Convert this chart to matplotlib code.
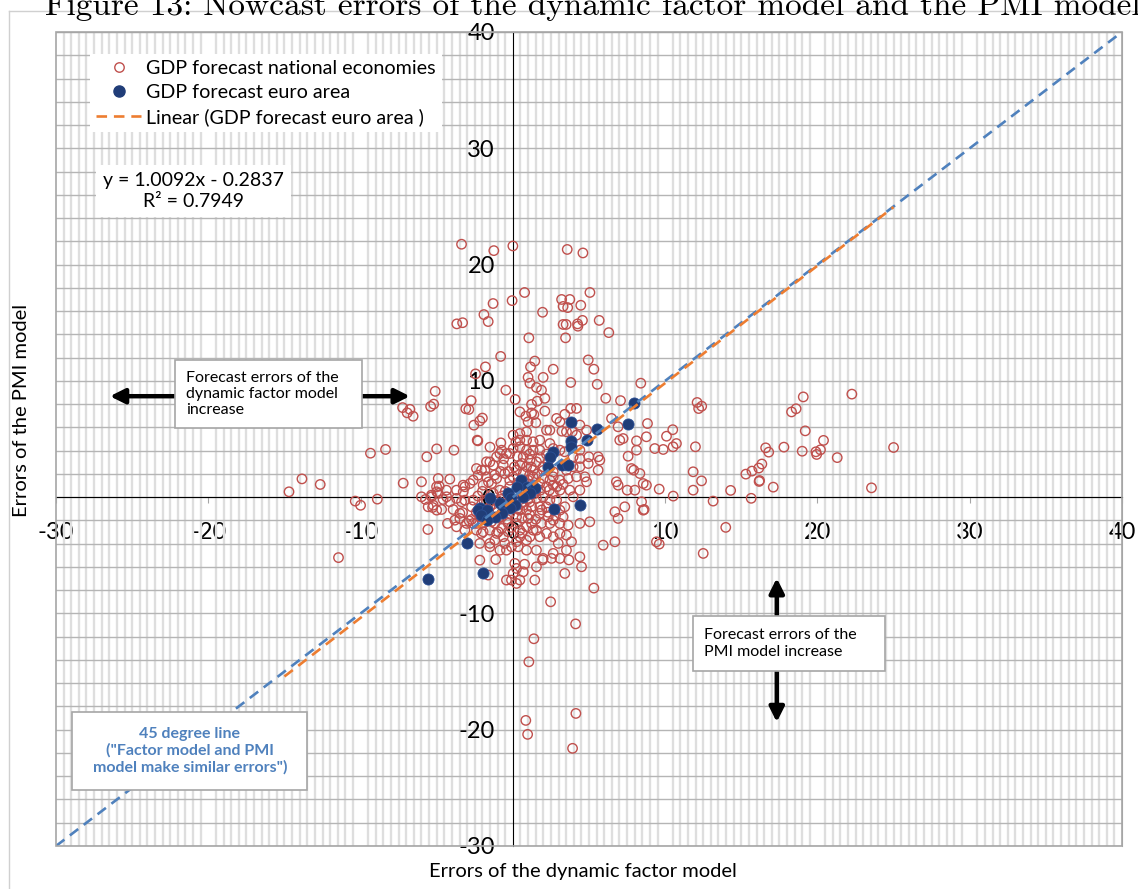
import matplotlib
matplotlib.use('Agg')
import matplotlib.pyplot as plt
from matplotlib.ticker import MultipleLocator
from matplotlib.patches import Rectangle
from matplotlib.lines import Line2D
import numpy as np

nat_upper = [(-3.37, 21.75), (-1.25, 21.2), (0.0, 21.6), (3.57, 21.3), (4.6, 21.0),
             (-1.3, 16.65), (-0.05, 16.9), (0.77, 17.6), (3.2, 17.0), (3.74, 17.0), (5.06, 17.6),
             (3.3, 16.4), (3.6, 16.3), (4.46, 16.5), (1.95, 15.9),
             (-3.68, 14.9), (-3.3, 15.0), (-1.9, 15.7), (-1.62, 15.1), (3.3, 14.85), (3.5, 14.85),
             (4.25, 14.9), (4.27, 14.7), (4.57, 15.2), (5.67, 15.2), (6.3, 14.15), (3.46, 13.7), (1.05, 13.7),
             (-0.8, 12.1), (-1.8, 11.2), (-2.45, 10.6), (4.95, 11.8), (5.32, 11.0), (1.44, 11.7),
             (1.16, 11.2), (2.65, 11.0), (1.0, 10.3), (1.12, 9.8), (1.99, 10.3), (3.8, 9.86), (5.54, 9.7),
             (1.55, 9.43), (1.88, 9.2), (8.4, 9.8), (-0.46, 9.2),
             (-5.1, 9.1), (-5.2, 8.0), (-5.4, 7.8), (-7.24, 7.7), (-6.76, 7.55), (-6.94, 7.25), (-6.55, 6.96),
             (-2.74, 8.3), (-3.09, 7.6), (-2.89, 7.54), (-2.0, 6.8), (-2.17, 6.56), (-2.56, 6.19),
             (0.15, 8.4), (0.46, 7.33), (2.1, 8.5), (1.6, 8.25), (1.23, 7.97), (6.1, 8.5), (7.07, 8.3),
             (0.85, 6.96), (1.23, 7.24), (1.38, 7.1), (2.1, 7.4), (1.51, 6.4), (1.0, 6.48), (2.87, 6.77),
             (3.09, 6.48), (3.41, 7.12), (3.8, 7.63), (4.18, 7.63), (4.4, 6.2), (6.48, 6.77), (8.84, 6.33),
             (12.1, 8.14), (12.2, 7.62), (12.4, 7.82)]

nat_right = [(19.07, 8.62), (22.26, 8.86), (18.3, 7.33), (18.6, 7.6), (19.2, 5.7), (16.6, 4.24),
             (16.8, 3.87), (17.8, 4.3), (19.0, 3.95), (19.9, 3.9), (19.95, 3.67), (20.2, 4.07), (20.4, 4.88),
             (21.3, 3.4), (25.0, 4.27), (15.3, 1.98), (15.7, 2.24), (16.15, 2.5), (16.35, 2.85), (16.2, 1.43),
             (17.1, 0.86), (23.55, 0.8), (15.65, -0.1),
             (9.61, 0.69), (10.53, 0.09), (11.84, 0.6), (12.39, 1.4), (14.3, 0.58), (13.15, -0.34),
             (16.17, 1.35), (8.62, -1.06), (8.45, -0.4), (13.98, -2.6), (9.61, -4.04), (12.5, -4.84),
             (10.5, 5.8), (10.09, 5.24), (10.74, 4.61), (9.32, 4.18), (9.87, 4.1), (10.52, 4.33),
             (11.99, 4.33), (11.84, 2.18), (8.12, 4.84), (8.77, 5.19), (8.12, 4.04), (8.34, 2.03),
             (8.56, 1.17), (8.77, 1.03), (9.43, -3.84), (8.56, -1.12)]

nat_left = [(-14.7, 0.46), (-13.85, 1.57), (-12.65, 1.09), (-9.35, 3.78), (-8.36, 4.1), (-10.35, -0.34),
            (-10.0, -0.7), (-8.9, -0.17), (-7.2, 1.2), (-5.65, 3.47), (-5.0, 4.15), (-3.87, 4.04),
            (-11.45, -5.2), (-5.58, -2.78), (-4.14, 1.55), (-5.74, -0.2), (-5.35, 0.17), (-5.0, 0.46),
            (-4.84, 0.95), (-4.58, -0.2), (-4.36, 0.6), (-4.14, -0.4), (-3.92, -1.06), (-5.27, -0.89),
            (-5.0, -1.12), (-4.68, -1.06), (-3.37, -0.4), (-3.3, -1.32), (-3.15, 0.89), (-4.29, -2.26),
            (-3.81, -1.98), (-3.7, -2.55), (-2.87, -2.04), (-6.0, 1.32), (-5.01, 0.89), (-6.0, 0.03),
            (-5.56, -0.83), (-5.23, -0.69), (-4.9, 1.6), (-4.9, 0.32), (-5.34, 0.03), (-4.35, 0.03),
            (-3.7, -0.11), (-3.7, 0.6), (-3.26, 1.03), (-3.26, 0.46), (-3.15, -0.26), (-3.48, -1.4),
            (-3.48, -1.83), (-3.04, -2.26), (-3.15, -2.84), (-2.71, -1.92)]

nat_core = [(-2.3, 4.84), (-2.6, 1.46), (-2.28, 1.89), (-1.84, 2.32), (-1.51, 3.03), (-0.85, 3.75),
            (-0.79, 4.67), (-0.2, 3.75), (-2.34, 4.9), (0.2, 4.76), (0.46, 4.9), (0.9, 4.9), (1.33, 4.76),
            (2.21, 5.76), (2.43, 5.76), (3.22, 5.67), (3.52, 5.62), (3.9, 5.62), (4.18, 5.33), (4.84, 5.76),
            (6.91, 6.05), (7.02, 4.9), (7.24, 5.04), (7.57, 3.52), (4.99, 3.47), (5.6, 3.47), (5.71, 3.18),
            (4.95, 2.89), (4.4, 4.04), (4.4, 3.32), (4.4, 2.61), (5.6, 2.32), (4.73, 1.75), (4.84, 1.32),
            (3.63, 1.6), (4.18, 1.75), (6.8, 1.32), (6.91, 1.03), (7.79, 2.46), (7.94, 2.32), (8.01, 0.6),
            (7.51, 0.6), (7.35, -0.83), (6.7, -1.26), (6.91, -1.83), (6.7, -3.84), (5.93, -4.13),
            (5.05, -2.12), (4.4, -2.26), (3.52, -3.27), (2.98, -3.98), (3.85, -3.84), (3.09, -5.27),
            (2.54, -5.27), (1.99, -5.27), (1.55, -4.56), (0.9, -4.56), (0.35, -4.27), (0.9, -3.7),
            (1.77, -3.41), (2.21, -3.12), (2.43, -2.26), (1.88, -2.26), (1.55, -2.84), (1.23, -2.26),
            (1.0, -1.83), (1.77, -1.4), (2.21, -0.83), (3.09, -1.12), (3.41, -0.83), (3.96, 0.03),
            (4.4, 0.6), (3.74, 0.6), (3.09, 0.6), (2.65, 1.03), (2.43, 1.46), (2.21, 0.89), (1.77, 1.17),
            (2.65, 2.18), (1.99, 2.61), (1.55, 3.04), (1.12, 3.18), (0.68, 3.47), (0.9, 4.04), (1.33, 4.04),
            (1.77, 4.04), (0.46, 4.33), (0.02, 4.18), (-0.42, 3.75), (-0.74, 4.04), (-1.07, 3.47),
            (-1.29, 2.75), (-1.73, 3.04), (-2.06, 2.32), (-2.39, 2.46), (-1.73, 1.75), (-1.07, 1.6),
            (-1.4, 1.17), (-1.95, 1.03), (-2.82, 1.17), (-2.39, -2.84), (-1.95, -2.98), (-1.51, -2.84),
            (-1.07, -3.12), (-0.63, -3.41), (-0.31, -2.98), (-0.53, -3.98), (-0.09, -4.27), (0.24, -3.84),
            (0.46, -3.41), (-1.18, -3.7), (-1.51, -4.27), (-2.17, -3.98), (-0.85, -4.56), (-0.42, -4.56),
            (-2.17, -5.42), (-1.12, -5.36), (0.13, -5.7), (0.24, -6.13), (0.68, -6.42), (0.02, -6.56),
            (-0.42, -7.13), (-0.09, -7.13), (0.46, -7.13), (0.24, -7.42), (1.44, -7.13), (4.51, -5.99),
            (3.41, -6.56), (4.4, -5.13), (3.52, -4.56), (2.65, -4.84), (1.55, -5.99),
            (1.33, 1.03), (1.0, 1.46), (1.33, 1.75), (0.68, 2.03), (0.46, 2.75), (0.24, 2.32), (0.02, 1.75),
            (-0.2, 1.46), (1.33, 2.32), (0.9, 2.61), (-0.63, 2.75), (-0.53, 2.03), (-0.85, 0.6),
            (-0.42, -0.54), (-1.29, 0.32), (-1.51, -0.83), (-0.74, -1.69), (0.24, -1.69), (0.9, -1.12),
            (0.57, -0.54), (1.12, -0.4), (1.55, -0.11), (1.99, 0.03), (2.43, -0.26), (2.65, 0.32),
            (2.87, -0.26), (1.77, -0.83), (1.23, -0.83), (0.46, -1.12), (0.24, -2.26), (0.9, -2.55),
            (1.33, -2.84), (2.32, -1.69), (2.65, -1.98), (3.09, -2.26), (3.63, -2.41), (2.65, -3.41),
            (3.09, -3.12), (1.12, -3.41), (0.46, -2.84), (-0.31, -2.26), (-0.74, -2.69), (-1.18, -2.26),
            (-1.51, -1.69), (-2.17, -1.69), (-2.39, -2.26), (-2.71, -0.83), (-2.6, -0.26), (-1.73, -0.4),
            (2.65, 1.75), (3.09, 1.46), (3.52, 2.32), (3.96, 2.61), (3.96, 3.47), (3.09, 4.04), (2.65, 4.18),
            (2.43, 4.61), (1.77, 4.9), (0.9, 5.62), (0.46, 5.47), (0.02, 5.33),
            (-2.06, -3.12), (-0.96, -2.98), (-1.51, -3.98), (-2.6, -2.26), (-1.62, -6.7), (0.77, -5.77),
            (1.95, -5.4), (3.68, -5.4)]

# the packed blob round the origin
nat_blob = [(-0.5, 0.5), (-0.2, 0.9), (0.3, 1.2), (0.7, 1.4), (1.1, 1.9), (1.6, 2.0), (2.0, 1.6),
            (1.8, 0.6), (1.4, 0.3), (0.9, 0.1), (0.5, -0.2), (0.1, -0.4), (-0.3, -0.1), (-0.7, 0.1),
            (-1.0, -0.3), (-1.3, -0.6), (-1.6, -1.1), (-1.1, -1.0), (-0.6, -1.1), (-0.2, -1.4), (0.3, -1.0),
            (0.7, -0.7), (1.0, -0.2), (1.5, 0.5), (2.4, 0.6), (2.9, 0.9), (3.3, 1.1), (2.0, 2.3), (2.3, 3.0),
            (1.8, 3.4), (1.2, 2.6), (0.6, 2.9), (0.1, 2.6), (-0.3, 2.2), (-0.8, 2.2), (-1.2, 1.9),
            (-1.6, 1.3), (-2.0, 0.5), (-2.3, 0.1), (-1.9, -0.3), (-2.4, -1.3), (-2.0, -2.2), (-1.4, -2.1),
            (-0.9, -1.8), (-0.4, -1.9), (0.6, -1.8), (1.1, -1.5), (1.5, -1.9), (1.9, -1.1), (2.3, -1.3),
            (2.8, -1.6), (3.3, -1.7), (-0.1, -2.6), (0.6, -3.1), (-0.6, 3.3), (0.3, 3.5), (1.1, 3.7),
            (2.2, 3.7), (-1.5, 4.3), (3.4, 3.9)]

nat_lower = [(5.32, -7.82), (2.48, -9.0), (4.12, -10.9), (1.38, -12.18), (1.05, -14.16),
             (4.14, -18.6), (0.85, -19.2), (0.97, -20.4), (3.92, -21.6)]

euro_area = [(3.79, 6.42), (5.54, 5.9), (7.57, 6.33), (7.94, 8.06), (4.9, 4.9), (3.85, 4.84), (3.85, 4.33),
             (2.65, 3.9), (2.43, 3.47), (2.32, 2.61), (3.2, 2.75), (3.63, 2.75), (0.53, 1.46), (0.9, 0.89),
             (1.44, 0.75), (0.28, 0.89), (-0.31, 0.32), (-0.09, -0.11), (1.12, 0.32), (0.68, 0.03),
             (0.13, -0.69), (-0.2, -0.97), (-0.85, -0.54), (-0.74, -1.4), (-1.18, -1.69), (-2.17, -0.97),
             (-2.28, -1.12), (-1.73, -1.12), (-2.06, -1.55), (-1.73, -1.98), (-1.51, -0.11), (2.72, -1.03),
             (4.4, -0.71), (-3.04, -3.98), (-1.95, -6.56), (-5.6, -7.08)]

# Excel linear trendline on the euro area series, extended back/forward
trend_slope = 1.0092
trend_intercept = -0.2837
trend_r2 = 0.7949
trend_x = [-15, 25]
diag_x = [-30, 40]

W, H = 1138, 889
RED = '#c0504d'
NAVY = '#203d78'
ORANGE = '#ed7d31'
LBLUE = '#4f81bd'

plt.rcParams['font.family'] = ['Lato', 'DejaVu Sans']
plt.rcParams['axes.unicode_minus'] = False

fig = plt.figure(figsize=(W / 100, H / 100), dpi=100)
ax = fig.add_axes([56 / W, 1 - 846 / H, 1066 / W, 814 / H])
ax.set_xlim(-30, 40)
ax.set_ylim(-30, 40)

# background grid: dense light vertical lines, horizontal every 2
ax.set_axisbelow(True)
ax.xaxis.set_major_locator(MultipleLocator(10))
ax.yaxis.set_major_locator(MultipleLocator(10))
ax.xaxis.set_minor_locator(MultipleLocator(0.5))
ax.yaxis.set_minor_locator(MultipleLocator(2))
ax.grid(True, which='minor', axis='x', color='#dedede', lw=1.7)
ax.grid(True, which='both', axis='y', color='#b5b5b5', lw=1.0)
ax.tick_params(which='minor', length=0)

for s in ['top', 'right']:
    ax.spines[s].set_color('#a6a6a6')
ax.spines['left'].set_position(('data', 0))
ax.spines['bottom'].set_position(('data', 0))
ax.spines['left'].set_color('black')
ax.spines['bottom'].set_color('black')
ax.add_patch(Rectangle((0, 0), 1, 1, transform=ax.transAxes, fill=False,
                       ec='#a6a6a6', lw=1.2, zorder=6, clip_on=False))
ax.tick_params(axis='x', which='major', length=4, color='#a6a6a6', pad=14, labelsize=17)
ax.tick_params(axis='y', which='major', length=0, pad=13, labelsize=17)

up = np.array(nat_upper + nat_right + nat_left + nat_core + nat_blob + nat_lower)
ea = np.array(euro_area)
ax.scatter(up[:, 0], up[:, 1], s=46, facecolors='none', edgecolors=RED, linewidths=1.0, zorder=3)
ax.scatter(ea[:, 0], ea[:, 1], s=64, color=NAVY, edgecolors='#2b4f94', linewidths=0.6, zorder=4)

tx = np.array(trend_x)
ax.plot(diag_x, diag_x, color=LBLUE, lw=1.9, dashes=(4, 2.6), zorder=5)
ax.plot(tx, trend_slope * tx + trend_intercept, color=ORANGE, lw=1.9, dashes=(4, 2.6), zorder=5)

handles = [Line2D([], [], ls='none', marker='o', mfc='none', mec=RED, ms=6.8, mew=1.0),
           Line2D([], [], ls='none', marker='o', color=NAVY, ms=8),
           Line2D([], [], color=ORANGE, lw=1.9, dashes=(4, 2.6))]
leg = ax.legend(handles, ['GDP forecast national economies', 'GDP forecast euro area',
                          'Linear (GDP forecast euro area )'],
                loc='upper left', bbox_to_anchor=(90 / W, 1 - 54 / H), bbox_transform=fig.transFigure,
                borderaxespad=0, fontsize=14.2, frameon=True, fancybox=False, handlelength=2.3,
                handletextpad=0.25, labelspacing=0.36, borderpad=0.3)
leg.get_frame().set_edgecolor('none')
leg.get_frame().set_facecolor('white')
leg.get_frame().set_alpha(1)
leg.set_zorder(8)

eq = f'y = {trend_slope:.4f}x - {-trend_intercept:.4f}\nR² = {trend_r2:.4f}'
ax.text(-20.98, 26.3, eq, ha='center', va='center', fontsize=14, multialignment='center',
        linespacing=1.3, zorder=8, bbox=dict(boxstyle='square,pad=0.35', fc='white', ec='none'))


def note_box(x0, y0, x1, y1, zorder=8):
    ax.add_patch(Rectangle((x0, y0), x1 - x0, y1 - y0, fc='white', ec='#a6a6a6', lw=1.2, zorder=zorder))


arrow = dict(arrowstyle='<|-|>', lw=3.2, color='black', mutation_scale=22, shrinkA=0, shrinkB=0)
ax.annotate('', xy=(-26.46, 8.68), xytext=(-6.76, 8.68), arrowprops=arrow, zorder=7)
note_box(-22.19, 5.93, -9.92, 11.78)
ax.text(-21.47, 8.86, 'Forecast errors of the\ndynamic factor model\nincrease', ha='left', va='center',
        fontsize=11.5, linespacing=1.2, zorder=9)

ax.annotate('', xy=(17.33, -6.96), xytext=(17.33, -19.35), arrowprops=arrow, zorder=7)
note_box(11.82, -14.96, 24.43, -10.23)
ax.text(12.54, -12.6, 'Forecast errors of the\nPMI model increase', ha='left', va='center',
        fontsize=11.5, linespacing=1.25, zorder=9)

note_box(-28.96, -25.19, -13.53, -18.49)
ax.text(-21.21, -21.8, '45 degree line\n("Factor model and PMI\nmodel make similar errors")',
        ha='center', va='center', fontsize=11.5, fontweight='bold', color=LBLUE, linespacing=1.2, zorder=9)

fig.text(583 / W, 1 - 871 / H, 'Errors of the dynamic factor model', ha='center', va='center', fontsize=14.5)
fig.text(22 / W, 1 - 410 / H, 'Errors of the PMI model', ha='center', va='center', rotation=90, fontsize=14.5)

# chart area frame and the clipped figure caption above it
fig.add_artist(Line2D([9 / W, 9 / W], [0, 1 - 11 / H], transform=fig.transFigure, color='#d0d0d0', lw=1))
fig.add_artist(Line2D([9 / W, 1], [1 - 11 / H, 1 - 11 / H], transform=fig.transFigure, color='#d0d0d0', lw=1))
fig.text(45 / W, 1 - 15 / H, 'Figure 13: Nowcast errors of the dynamic factor model and the PMI model',
         ha='left', va='baseline', fontsize=24, family='cmr10')

fig.savefig('out.png', dpi=100)
